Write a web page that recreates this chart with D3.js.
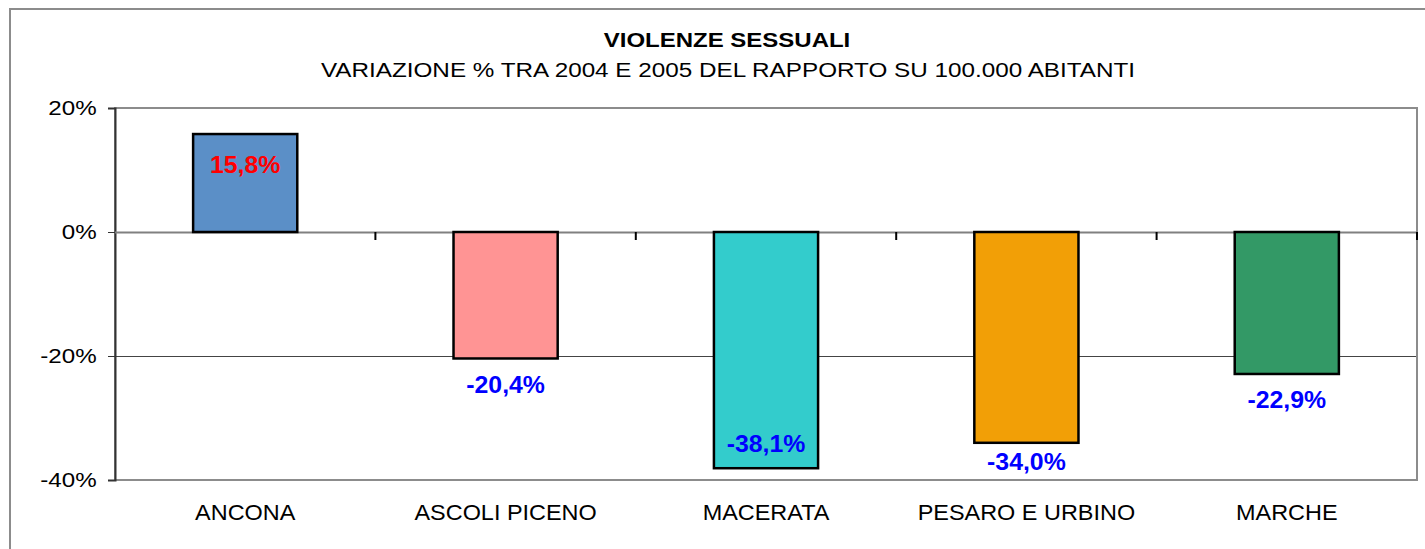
<!DOCTYPE html>
<html>

<head>
    <meta charset="utf-8" />
    <title>violenze sessuali</title>
    <script src="https://cdn.jsdelivr.net/npm/d3@7"></script>
</head>

<body>
    <style>
        html,
        body {
            margin: 0;
            padding: 0;
            background: #fff;
        }

        svg text {
            font-family: "Liberation Sans", Arial, sans-serif;
        }
    </style>
    <div id="container"></div>
    <script>
        // dati
        const province = ["ANCONA", "ASCOLI PICENO", "MACERATA", "PESARO E URBINO", "MARCHE"];
        const variazione = [15.8, -20.4, -38.1, -34.0, -22.9];
        const colori = ["#5B8FC7", "#FF9494", "#33CCCC", "#F29F06", "#339966"];
        const yTicks = [20, 0, -20, -40];

        const W = 1425, H = 549;
        const plot = { left: 115, top: 108, right: 1417, bottom: 480 };

        const svg = d3.select("#container").append("svg")
            .attr("width", W)
            .attr("height", H);

        // text with a little horizontal stretch (the original font is wider)
        function label(parent, x, y, str, size, sx) {
            return parent.append("g")
                .attr("transform", `translate(${x},${y}) scale(${sx},1)`)
                .append("text")
                .attr("text-anchor", "middle")
                .attr("font-size", size)
                .text(str);
        }

        // outer chart border
        svg.append("rect")
            .attr("x", 10).attr("y", 9)
            .attr("width", W).attr("height", H)
            .attr("fill", "none")
            .attr("stroke", "#8c8c8c")
            .attr("stroke-width", 2);

        label(svg, 727, 47, "VIOLENZE SESSUALI", 20, 1.2)
            .attr("font-weight", "bold");
        label(svg, 728, 77, "VARIAZIONE % TRA 2004 E 2005 DEL RAPPORTO SU 100.000 ABITANTI", 21, 1.156);

        const x = d3.scaleBand()
            .domain(province)
            .range([plot.left, plot.right])
            .paddingInner(0.6)
            .paddingOuter(0.3);

        const y = d3.scaleLinear()
            .domain([-40, 20])
            .range([plot.bottom, plot.top]);

        // gridlines
        svg.append("g")
            .selectAll("line")
            .data(yTicks)
            .enter().append("line")
            .attr("x1", plot.left).attr("x2", plot.right)
            .attr("y1", d => Math.round(y(d)) + 0.5)
            .attr("y2", d => Math.round(y(d)) + 0.5)
            .attr("stroke", "#444")
            .attr("stroke-width", 1);

        // plot frame
        svg.append("rect")
            .attr("x", plot.left).attr("y", plot.top)
            .attr("width", plot.right - plot.left)
            .attr("height", plot.bottom - plot.top)
            .attr("fill", "none")
            .attr("stroke", "#8c8c8c")
            .attr("stroke-width", 2);

        // y axis
        const yAxis = svg.append("g")
            .attr("transform", `translate(${plot.left},0)`)
            .call(d3.axisLeft(y)
                .tickValues(yTicks)
                .tickSize(7)
                .tickPadding(9)
                .tickFormat(d => d + "%"));
        yAxis.select(".domain").attr("stroke", "#333").attr("stroke-width", 2);
        yAxis.selectAll(".tick line").attr("stroke", "#333");
        yAxis.selectAll("text")
            .attr("font-size", 21)
            .attr("fill", "#000")
            .attr("transform", "scale(1.15,1)")
            .attr("font-family", "'Liberation Sans', Arial, sans-serif");

        // category axis on zero line
        const zeroY = Math.round(y(0));
        svg.append("line")
            .attr("x1", plot.left).attr("x2", plot.right)
            .attr("y1", zeroY + 0.5).attr("y2", zeroY + 0.5)
            .attr("stroke", "#808080")
            .attr("stroke-width", 2);
        const step = x.step();
        svg.append("g")
            .selectAll("line")
            .data(province)
            .enter().append("line")
            .attr("x1", d => x(d) - x.paddingOuter() * step + step)
            .attr("x2", d => x(d) - x.paddingOuter() * step + step)
            .attr("y1", zeroY)
            .attr("y2", zeroY + 8)
            .attr("stroke", "#000")
            .attr("stroke-width", 2);

        // category labels
        const catG = svg.append("g");
        province.forEach(p => label(catG, x(p) + x.bandwidth() / 2, 520, p, 22, 1.066));

        // bars
        svg.append("g")
            .selectAll("rect")
            .data(variazione)
            .enter().append("rect")
            .attr("x", (d, i) => x(province[i]))
            .attr("width", x.bandwidth())
            .attr("y", d => y(Math.max(0, d)))
            .attr("height", d => Math.abs(y(d) - y(0)))
            .attr("fill", (d, i) => colori[i])
            .attr("stroke", "#000")
            .attr("stroke-width", 2.5);

        // value labels
        function labelY(d) {
            if (d > 0) return y(d) + 31;
            let ly = y(d) + 26;
            if (ly > plot.bottom - 10) return y(d) - 24; // no room: inside bar
            return Math.min(ly, plot.bottom - 18);
        }
        const valG = svg.append("g");
        variazione.forEach((d, i) => {
            label(valG, x(province[i]) + x.bandwidth() / 2, labelY(d),
                d3.format(".1f")(d).replace("−", "-").replace(".", ",") + "%", 23, 1.08)
                .attr("dy", "0.35em")
                .attr("font-weight", "bold")
                .attr("fill", d > 0 ? "#FF0000" : "#0000FF");
        });
    </script>
</body>

</html>
